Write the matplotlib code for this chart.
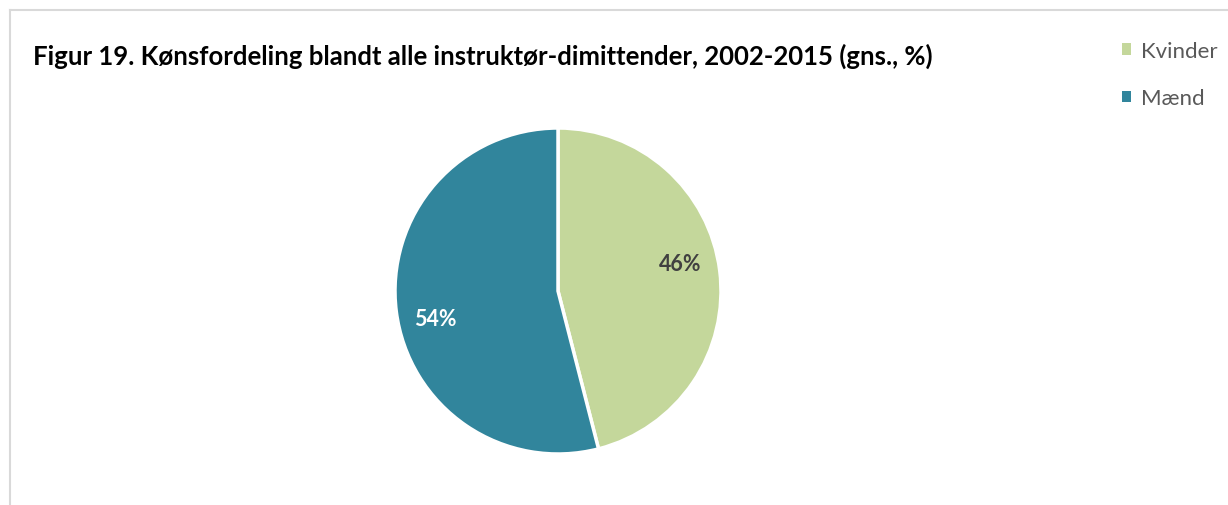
import numpy as np
import matplotlib.pyplot as plt
from matplotlib.lines import Line2D
from matplotlib.patches import Patch

# data
labels = ['Kvinder', 'Mænd']
values = [46, 54]
colors = ['#C4D79B', '#31859C']
pct_colors = ['#404040', 'white']

plt.rcParams['font.family'] = ['Lato', 'DejaVu Sans']

W, H = 1228, 506
fig = plt.figure(figsize=(W / 100, H / 100), dpi=100)

# chart border (only top and left visible in the crop)
fig.add_artist(Line2D([10 / W, 10 / W], [0, 1 - 11 / H], color='#d9d9d9', lw=1.5))
fig.add_artist(Line2D([10 / W, 1], [1 - 11 / H, 1 - 11 / H], color='#d9d9d9', lw=1.5))

# pie centred at (558, 292) px, radius 163 px
cx, cy, r = 558, 292, 163
ax = fig.add_axes([(cx - r) / W, (H - cy - r) / H, 2 * r / W, 2 * r / H])
wedges, texts = ax.pie(values, colors=colors, startangle=90, counterclock=False,
                       wedgeprops=dict(edgecolor='white', linewidth=2.5))
ax.set_xlim(-1, 1)
ax.set_ylim(-1, 1)
ax.set_aspect('auto')

# percentage labels, nudged a little like Excel's best fit
for w, v, c in zip(wedges, values, pct_colors):
    ang = np.deg2rad((w.theta1 + w.theta2) / 2 + 5.5)
    ax.text(0.77 * np.cos(ang), 0.77 * np.sin(ang), f'{v}%', ha='center', va='center',
            fontsize=15.5, fontweight='bold', color=c)

fig.text(33 / W, 1 - 56 / H, 'Figur 19. Kønsfordeling blandt alle instruktør-dimittender, 2002-2015 (gns., %)',
         fontsize=18.5, fontweight='bold', color='black', va='center', ha='left')

handles = [Patch(facecolor=c, edgecolor='none') for c in colors]
fig.legend(handles, labels, loc='upper right', bbox_to_anchor=(1238 / W, 1 - 22 / H),
           frameon=False, fontsize=16, labelcolor='#595959', handlelength=0.4, handleheight=0.4,
           handletextpad=0.45, labelspacing=1.23)

fig.savefig('out.png', dpi=100)
